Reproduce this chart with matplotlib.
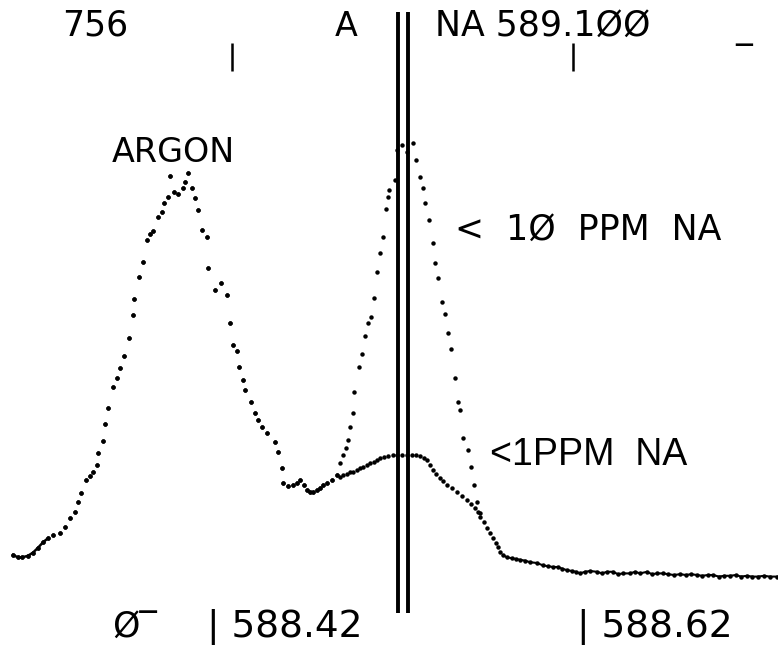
import numpy as np
import matplotlib
matplotlib.use("Agg")
import matplotlib.pyplot as plt

# ---------------- data ----------------
# shared argon region (both scans coincide here); wavelength in nm, counts 0..756
argon_wl = [588.2916, 588.2945, 588.2968, 588.3003, 588.3033, 588.3062, 588.3092, 588.3121, 588.3150, 588.3191,
            588.3221, 588.3250, 588.3279, 588.3297, 588.3314, 588.3344, 588.3367, 588.3385, 588.3408, 588.3414,
            588.3443, 588.3455, 588.3473, 588.3502, 588.3526, 588.3543, 588.3567, 588.3596, 588.3619, 588.3625,
            588.3655, 588.3678, 588.3702, 588.3719, 588.3737, 588.3766, 588.3789, 588.3801, 588.3825, 588.3836,
            588.3860, 588.3883, 588.3913, 588.3924, 588.3942, 588.3965, 588.3983, 588.4001, 588.4024, 588.4053,
            588.4059, 588.4100, 588.4135, 588.4171, 588.4188, 588.4206, 588.4229, 588.4241, 588.4265, 588.4276,
            588.4311, 588.4335, 588.4352, 588.4376, 588.4405, 588.4452, 588.4470, 588.4493, 588.4499, 588.4528,
            588.4558, 588.4581, 588.4599, 588.4622, 588.4640, 588.4657, 588.4675, 588.4699, 588.4716, 588.4734,
            588.4757, 588.4787, 588.4816]
argon_counts = [75, 72, 72, 74, 78, 84, 91, 96, 100, 102,
                110, 121, 129, 141, 152, 169, 174, 179, 188, 202,
                217, 239, 259, 285, 296, 309, 324, 346, 375, 395,
                422, 441, 469, 476, 480, 497, 504, 515, 522, 549,
                529, 526, 534, 541, 552, 534, 521, 506, 481, 472,
                434, 406, 415, 400, 365, 338, 330, 310, 294, 281,
                266, 252, 244, 235, 228, 216, 204, 184, 165, 161,
                162, 165, 169, 162, 156, 154, 154, 156, 159, 162,
                165, 169, 175]

# "< 10 PPM NA" scan, sodium peak branch
na10_wl = [588.4833, 588.4851, 588.4869, 588.4880, 588.4892, 588.4910, 588.4916, 588.4945, 588.4962, 588.4980,
           588.4998, 588.5015, 588.5033, 588.5050, 588.5068, 588.5086, 588.5103, 588.5115, 588.5121, 588.5156,
           588.5168, 588.5197, 588.5226, 588.5262, 588.5279, 588.5303, 588.5320, 588.5332, 588.5355, 588.5379,
           588.5391, 588.5408, 588.5432, 588.5449, 588.5467, 588.5484, 588.5508, 588.5525, 588.5537, 588.5555,
           588.5584, 588.5602, 588.5619, 588.5637, 588.5655]
na10_counts = [190, 200, 209, 219, 235, 252, 279, 310, 326, 349,
               365, 372, 396, 429, 452, 472, 507, 522, 531, 544,
               581, 587, 579, 590, 569, 547, 534, 515, 494, 465,
               440, 421, 391, 376, 352, 332, 296, 266, 256, 221,
               206, 185, 162, 141, 127]

# "<1PPM NA" scan, small bump + baseline
na1_wl = [588.4833, 588.4851, 588.4874, 588.4892, 588.4910, 588.4933, 588.4951, 588.4968, 588.4992, 588.5009,
          588.5033, 588.5050, 588.5068, 588.5091, 588.5115, 588.5144, 588.5168, 588.5197, 588.5226, 588.5256,
          588.5279, 588.5303, 588.5326, 588.5344, 588.5361, 588.5379, 588.5396, 588.5420, 588.5438, 588.5461,
          588.5490, 588.5520, 588.5549, 588.5578, 588.5602, 588.5625, 588.5643, 588.5655, 588.5678, 588.5696,
          588.5713, 588.5731, 588.5748, 588.5760, 588.5772, 588.5789, 588.5813, 588.5842, 588.5866, 588.5889,
          588.5918, 588.5948, 588.5989, 588.6024, 588.6053, 588.6083, 588.6112, 588.6135, 588.6165, 588.6194,
          588.6218, 588.6241, 588.6270, 588.6300, 588.6341, 588.6370, 588.6399, 588.6435, 588.6464, 588.6493,
          588.6534, 588.6564, 588.6593, 588.6634, 588.6663, 588.6693, 588.6728, 588.6757, 588.6792, 588.6828,
          588.6863, 588.6892, 588.6927, 588.6957, 588.6992, 588.7021, 588.7056, 588.7086, 588.7121, 588.7156,
          588.7185, 588.7220, 588.7250, 588.7285, 588.7320, 588.7355, 588.7396]
na1_counts = [172, 175, 176, 179, 179, 181, 184, 185, 188, 190,
              191, 194, 196, 198, 199, 200, 200, 200, 200, 200,
              200, 199, 196, 194, 188, 181, 176, 171, 168, 162,
              159, 154, 149, 144, 139, 134, 129, 122, 116, 109,
              102, 96, 90, 85, 79, 75, 72, 71, 70, 69,
              68, 66, 65, 62, 61, 60, 60, 58, 56, 55,
              54, 52, 54, 55, 54, 52, 54, 54, 51, 52,
              52, 54, 52, 54, 51, 52, 52, 51, 50, 51,
              50, 51, 50, 49, 50, 50, 48, 49, 49, 50,
              48, 49, 48, 48, 49, 48, 48]

cursor_wl = [588.5174, 588.5232]      # double cursor line
marker_wl = [588.42, 588.62]          # short top markers
full_scale = 756

top_left_label = "756"
top_mid_label = "A"
top_right_label = "NA 589.1ØØ"
peak_label = "ARGON"
high_label = "<  1Ø  PPM  NA"
low_label = "<1PPM  NA"
zero_label = "Ø‾"
x_labels = ["| 588.42", "| 588.62"]

# ---------------- figure ----------------
W, H = 778, 645
fig = plt.figure(figsize=(W / 100, H / 100), dpi=100)
ax = fig.add_axes([0, 0, 1, 1])
ax.set_xlim(588.283932, 588.740229)
ax.set_ylim(-37.5, 768.75)
ax.axis("off")

ink = "#000000"
spec10_wl = np.concatenate([argon_wl, na10_wl])
spec10_ct = np.concatenate([argon_counts, na10_counts])
spec1_wl = np.concatenate([argon_wl, na1_wl])
spec1_ct = np.concatenate([argon_counts, na1_counts])

ax.plot(spec1_wl, spec1_ct, linestyle="none", marker="o", ms=3.2, mew=0, color=ink)
ax.plot(spec10_wl, spec10_ct, linestyle="none", marker="o", ms=3.2, mew=0, color=ink)
# flat stretches print as a near-continuous trace
base = spec1_wl >= 588.578
ax.plot(spec1_wl[base], spec1_ct[base], "-", lw=1.5, color=ink)
tail = spec1_wl <= 588.3130
ax.plot(spec1_wl[tail], spec1_ct[tail], "-", lw=1.8, color=ink)

ax.vlines(cursor_wl, 2, 754, lw=2.8, color=ink, zorder=5)
ax.vlines(marker_wl, 680, 715, lw=1.8, color=ink)

mono = {"family": "DejaVu Sans", "color": ink}

def ptxt(px, py, s, size, ha="left", fam=None):
    kw = dict(mono)
    if fam:
        kw["family"] = fam
    ax.text(px / W, 1 - py / H, s, transform=ax.transAxes, fontsize=size,
            ha=ha, va="center", **kw)

ptxt(62, 26, top_left_label, 25)
ptxt(335, 26, top_mid_label, 24)
ptxt(435, 26, top_right_label, 25)
ptxt(735, 30, "_", 24)
ptxt(112, 152, peak_label, 24)
ptxt(455, 230, high_label, 25)
ptxt(490, 455, low_label, 27, fam="Liberation Sans")
ptxt(112, 627, zero_label, 25)
ptxt(207, 627, x_labels[0], 27)
ptxt(577, 627, x_labels[1], 27)

fig.savefig("out.png", dpi=100)
